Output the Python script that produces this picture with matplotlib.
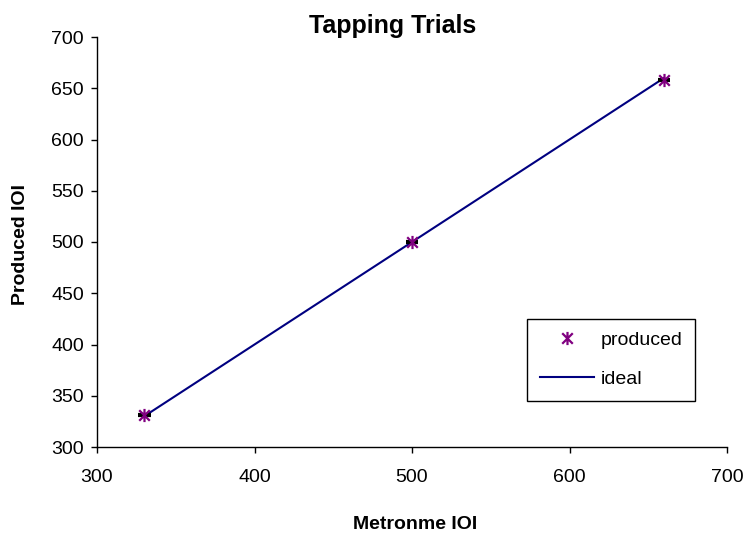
import matplotlib
matplotlib.use("Agg")
import matplotlib.pyplot as plt
from matplotlib.path import Path

plt.rcParams['font.family'] = ['Liberation Sans', 'DejaVu Sans']

metronome = [330, 500, 660]
produced = [331, 500, 658]
ideal_x = [330, 660]
ideal_y = [330, 660]
x_err = [4, 4, 4]
x_ticks = [300, 400, 500, 600, 700]
y_ticks = [300, 350, 400, 450, 500, 550, 600, 650, 700]

W, H = 747, 535
fig = plt.figure(figsize=(W / 100, H / 100), dpi=100)
ax = fig.add_axes([97 / W, 1 - 447 / H, (727 - 97) / W, (447 - 37) / H])

star = Path([(0, -1), (0, 1), (-0.8, -0.8), (0.8, 0.8), (-0.8, 0.8), (0.8, -0.8)],
            [Path.MOVETO, Path.LINETO, Path.MOVETO, Path.LINETO, Path.MOVETO, Path.LINETO])

ax.plot(ideal_x, ideal_y, color='#000080', lw=1.5, label='ideal', zorder=2)
ax.errorbar(metronome, produced, xerr=x_err, fmt='none', ecolor='black',
            elinewidth=3, capsize=0, zorder=3)
ax.plot(metronome, produced, linestyle='none', marker=star, markersize=9.5,
        markeredgewidth=1.6, color='#800080', markerfacecolor='none',
        label='produced', zorder=4)

ax.set_xlim(300, 700)
ax.set_ylim(300, 700)
ax.set_xticks(x_ticks)
ax.set_yticks(y_ticks)
ax.tick_params(axis='both', labelsize=14, direction='out', length=4.5, width=1)
ax.tick_params(axis='y', pad=5)
ax.tick_params(axis='x', pad=11)
for s in ['top', 'right']:
    ax.spines[s].set_visible(False)
for s in ['left', 'bottom']:
    ax.spines[s].set_linewidth(1)

fig.text(392.5 / W, 1 - 33 / H, 'Tapping Trials', fontsize=18, fontweight='bold',
         ha='center', va='baseline')
fig.text(415 / W, 1 - 529 / H, 'Metronme IOI', fontsize=14, fontweight='bold',
         ha='center', va='baseline')
fig.text(21 / W, 1 - 245 / H, 'Produced IOI', fontsize=14, fontweight='bold',
         ha='center', va='center', rotation=90)

handles, labels = ax.get_legend_handles_labels()
order = [1, 0]
leg = ax.legend([handles[i] for i in order], [labels[i] for i in order],
                loc='upper left', bbox_to_anchor=(527 / W, 1 - 319 / H),
                bbox_transform=fig.transFigure, borderaxespad=0, fontsize=14,
                frameon=True, fancybox=False, edgecolor='black', framealpha=1,
                handlelength=2.8, handletextpad=0.35, borderpad=0.65,
                labelspacing=1.1)
leg.get_frame().set_linewidth(1)

fig.savefig('out.png', dpi=100)
